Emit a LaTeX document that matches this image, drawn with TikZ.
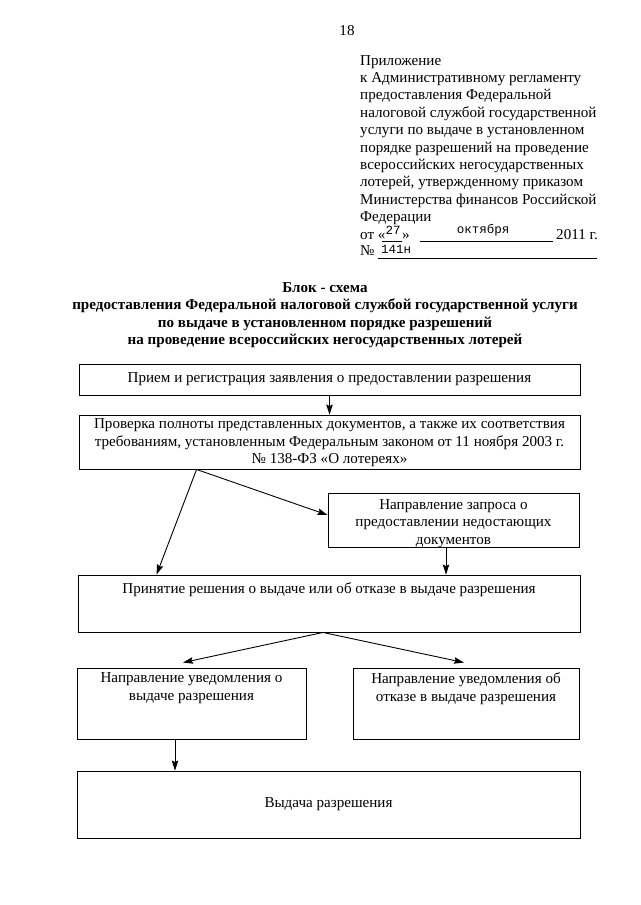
\documentclass[tikz,border=0pt]{standalone}
\usepackage{fontspec}
\setmainfont{Liberation Serif}
\newfontfamily\monof{Liberation Mono}
\usetikzlibrary{arrows.meta}
\begin{document}
\begin{tikzpicture}[x=1pt,y=-1pt,
  box/.style={draw, line width=0.9pt, inner sep=0pt, rectangle},
  txt/.style={font=\fontsize{15.1}{17.5}\selectfont, align=center, inner sep=0pt},
  arr/.style={-{Stealth[length=10pt,width=6.5pt,inset=1.5pt]}, line width=0.9pt},
  uline/.style={line width=0.7pt}]
\useasboundingbox (0,0) rectangle (640,905);
\fill[white] (0,0) rectangle (640,905);

% page number
\node[txt] (pg) at (347,31) {18};

% appendix header
\node[txt, anchor=north west, align=left, font=\fontsize{15.1}{17.4}\selectfont] (app) at (360,55)
 {Приложение\\к Административному регламенту\\предоставления Федеральной\\налоговой службой государственной\\услуги по выдаче в установленном\\порядке разрешений на проведение\\всероссийских негосударственных\\лотерей, утвержденному приказом\\Министерства финансов Российской\\Федерации};
\node[txt, anchor=base west] (ot) at (360,239) {от «};
\node[txt, anchor=base, font=\monof\fontsize{12.5}{15}\selectfont] (day) at (393,234) {27};
\node[txt, anchor=base west] (otq) at (402,239) {»};
\draw[uline] (382,241) -- (402,241);
\draw[uline] (420,241) -- (553,241);
\node[txt, anchor=base, font=\monof\fontsize{12.5}{15}\selectfont] (month) at (483,233) {октября};
\node[txt, anchor=base west] (yr) at (556,239) {2011 г.};
\node[txt, anchor=base west] (no) at (360,255) {№};
\draw[uline] (378,258) -- (597,258);
\node[txt, anchor=base west, font=\monof\fontsize{12.5}{15}\selectfont] (num) at (381,253) {141н};

% title
\node[txt, font=\bfseries\fontsize{15.1}{17.4}\selectfont] (title) at (325,315)
 {Блок - схема\\предоставления Федеральной налоговой службой государственной услуги\\по выдаче в установленном порядке разрешений\\на проведение всероссийских негосударственных лотерей};

% boxes
\node[box, minimum width=501pt, minimum height=31pt] (b1) at (329.5,379.5) {};
\node[txt] (t1) at (b1) {Прием и регистрация заявления о предоставлении разрешения};

\node[box, minimum width=501pt, minimum height=54pt] (b2) at (329.5,442) {};
\node[txt] (t2) at ([yshift=-1pt]b2.center) {Проверка полноты представленных документов, а также их соответствия\\требованиям, установленным Федеральным законом от 11 ноября 2003 г.\\№ 138-ФЗ «О лотереях»};

\node[box, minimum width=251pt, minimum height=54pt] (bq) at (453.5,520) {};
\node[txt] (tq) at ([yshift=-3.5pt]bq.center) {Направление запроса о\\предоставлении недостающих\\документов};

\node[box, minimum width=502pt, minimum height=57pt] (b3) at (329,603.5) {};
\node[txt, anchor=north] (t3) at ([yshift=-8pt]b3.north) {Принятие решения о выдаче или об отказе в выдаче разрешения};

\node[box, minimum width=229pt, minimum height=71pt] (b4) at (191.5,703.5) {};
\node[txt, anchor=north] (t4) at ([yshift=-5pt]b4.north) {Направление уведомления о\\выдаче разрешения};

\node[box, minimum width=226pt, minimum height=71pt] (b5) at (466,703.5) {};
\node[txt, anchor=north] (t5) at ([yshift=-5pt]b5.north) {Направление уведомления об\\отказе в выдаче разрешения};

\node[box, minimum width=503pt, minimum height=67pt] (b6) at (328.5,804.5) {};
\node[txt] (t6) at (b6) {Выдача разрешения};

% connectors
\draw[arr] (b1.south) -- (b2.north);
\coordinate (s2) at ([xshift=118pt]b2.south west);
\draw[arr] (s2) -- ([xshift=79pt]b3.north west);
\draw[arr] (s2) -- ([yshift=5pt]bq.west);
\coordinate (qd) at ([xshift=-7.5pt]bq.south);
\draw[arr] (qd) -- (qd |- b3.north);
\coordinate (s3) at ([xshift=-6pt]b3.south);
\draw[arr] (s3) -- ([xshift=-8.5pt,yshift=5pt]b4.north);
\draw[arr] (s3) -- ([xshift=-2pt,yshift=5pt]b5.north);
\coordinate (d4) at ([xshift=-16.5pt]b4.south);
\draw[arr] (d4) -- (d4 |- b6.north);
\end{tikzpicture}
\end{document}
